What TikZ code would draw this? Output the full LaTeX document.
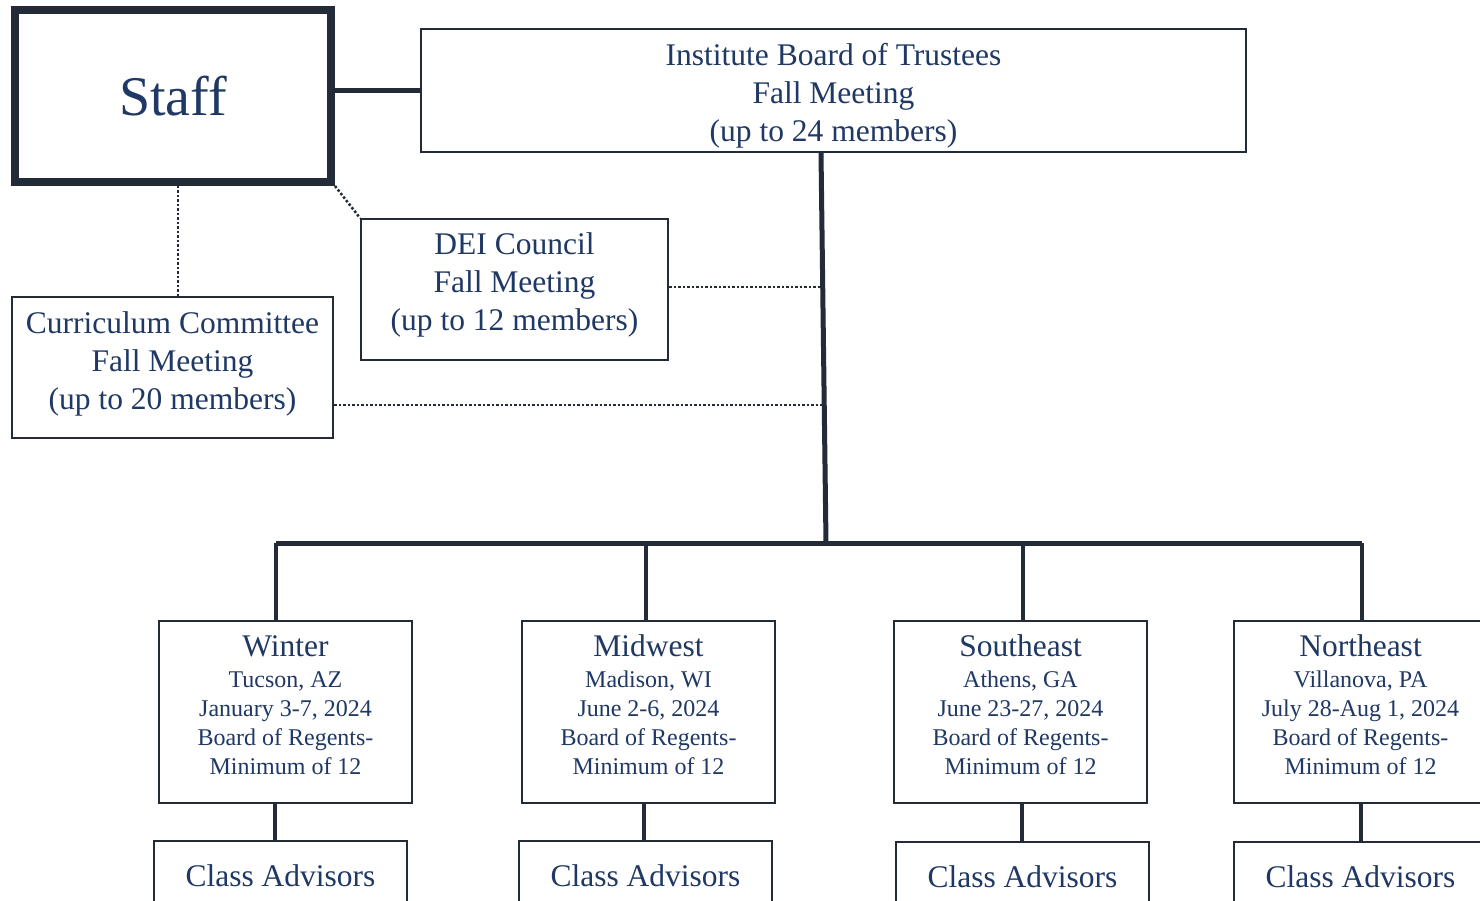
\documentclass[tikz,border=0pt]{standalone}
\usepackage{fontspec}
\setmainfont{Liberation Serif}
\usetikzlibrary{calc}
\definecolor{ln}{HTML}{232B38}
\definecolor{tx}{HTML}{1F3864}
\tikzset{
  box/.style={draw=ln, line width=2pt, inner sep=0pt, fill=white},
  lbl/.style={text=tx, align=center, inner sep=0pt},
  bigtext/.style={font=\fontsize{31.5}{38}\selectfont},
  regbox/.style={box, minimum width=253pt, minimum height=182pt},
  reglbl/.style={lbl, font=\fontsize{24}{29}\selectfont},
  cabox/.style={box, minimum width=253pt, minimum height=70pt, lbl, bigtext},
  solidlink/.style={draw=ln, line width=5pt},
  droplink/.style={draw=ln, line width=4pt},
  dotlink/.style={draw=ln, line width=2.5pt, dash pattern=on 2.5pt off 2pt},
}
\newcommand{\rtitle}[1]{{\fontsize{31.5}{33}\selectfont #1}\\[2pt]}
\begin{document}
\begin{tikzpicture}[x=1pt,y=-1pt]
\useasboundingbox (0,0) rectangle (1480,901);
\clip (0,0) rectangle (1480,901);
% top level
\node[box, line width=8pt, minimum width=316pt, minimum height=172pt, lbl, font=\fontsize{56}{60}\selectfont] (staff) at (173,96) {Staff};
\node[box, minimum width=825pt, minimum height=123pt] (trust) at (833.5,90.5) {};
\node[lbl, bigtext] (trustT) at ($(trust.center)+(0,5)$) {Institute Board of Trustees\\Fall Meeting\\(up to 24 members)};
\node[box, minimum width=307pt, minimum height=141pt] (dei) at (514.5,289.5) {};
\node[lbl, bigtext] (deiT) at ($(dei.center)+(0,-5)$) {DEI Council\\Fall Meeting\\(up to 12 members)};
\node[box, minimum width=321pt, minimum height=141pt] (cur) at (172.5,367.5) {};
\node[lbl, bigtext] (curT) at ($(cur.center)+(0,-4)$) {Curriculum Committee\\Fall Meeting\\(up to 20 members)};
% regions
\node[regbox] (w) at (285.5,712) {};
\node[regbox] (m) at (648.5,712) {};
\node[regbox] (s) at (1020.5,712) {};
\node[regbox] (n) at (1360.5,712) {};
\node[reglbl] (wT) at ($(w.center)+(0,-7)$) {\rtitle{Winter}Tucson, AZ\\January 3-7, 2024\\Board of Regents-\\Minimum of 12};
\node[reglbl] (mT) at ($(m.center)+(0,-7)$) {\rtitle{Midwest}Madison, WI\\June 2-6, 2024\\Board of Regents-\\Minimum of 12};
\node[reglbl] (sT) at ($(s.center)+(0,-7)$) {\rtitle{Southeast}Athens, GA\\June 23-27, 2024\\Board of Regents-\\Minimum of 12};
\node[reglbl] (nT) at ($(n.center)+(0,-7)$) {\rtitle{Northeast}Villanova, PA\\July 28-Aug 1, 2024\\Board of Regents-\\Minimum of 12};
% class advisors
\node[cabox] (cw) at (280.5,876) {Class Advisors};
\node[cabox] (cm) at (645.5,876) {Class Advisors};
\node[cabox] (cs) at (1022.5,877) {Class Advisors};
\node[cabox] (cn) at (1360.5,877) {Class Advisors};
% coordinates
\coordinate (ttop) at (821,153);
\coordinate (bus) at (826,543);
\coordinate (d1) at (276,543);
\coordinate (d2) at (646,543);
\coordinate (d3) at (1023,543);
\coordinate (d4) at (1362,543);
\coordinate (e1) at (275,0);
\coordinate (e2) at (644,0);
\coordinate (e3) at (1022,0);
\coordinate (e4) at (1361,0);
\coordinate (j1) at (823,287);
\coordinate (j2) at (824,405);
% connectors
\draw[solidlink] (staff.east |- 0,91) -- (trust.west |- 0,91);
\draw[solidlink] (ttop) -- (bus);
\draw[solidlink] (d1) -- (d4);
\draw[droplink] (d1) -- (d1 |- w.north);
\draw[droplink] (d2) -- (d2 |- m.north);
\draw[droplink] (d3) -- (d3 |- s.north);
\draw[droplink] (d4) -- (d4 |- n.north);
\draw[droplink] (e1 |- w.south) -- (e1 |- cw.north);
\draw[droplink] (e2 |- m.south) -- (e2 |- cm.north);
\draw[droplink] (e3 |- s.south) -- (e3 |- cs.north);
\draw[droplink] (e4 |- n.south) -- (e4 |- cn.north);
\draw[dotlink] (dei.east |- j1) -- (j1);
\draw[dotlink] (cur.east |- j2) -- (j2);
\draw[dotlink] (staff.south east) -- (dei.north west);
\draw[dotlink] (staff.south -| 178,0) -- (cur.north -| 178,0);
\end{tikzpicture}
\end{document}
